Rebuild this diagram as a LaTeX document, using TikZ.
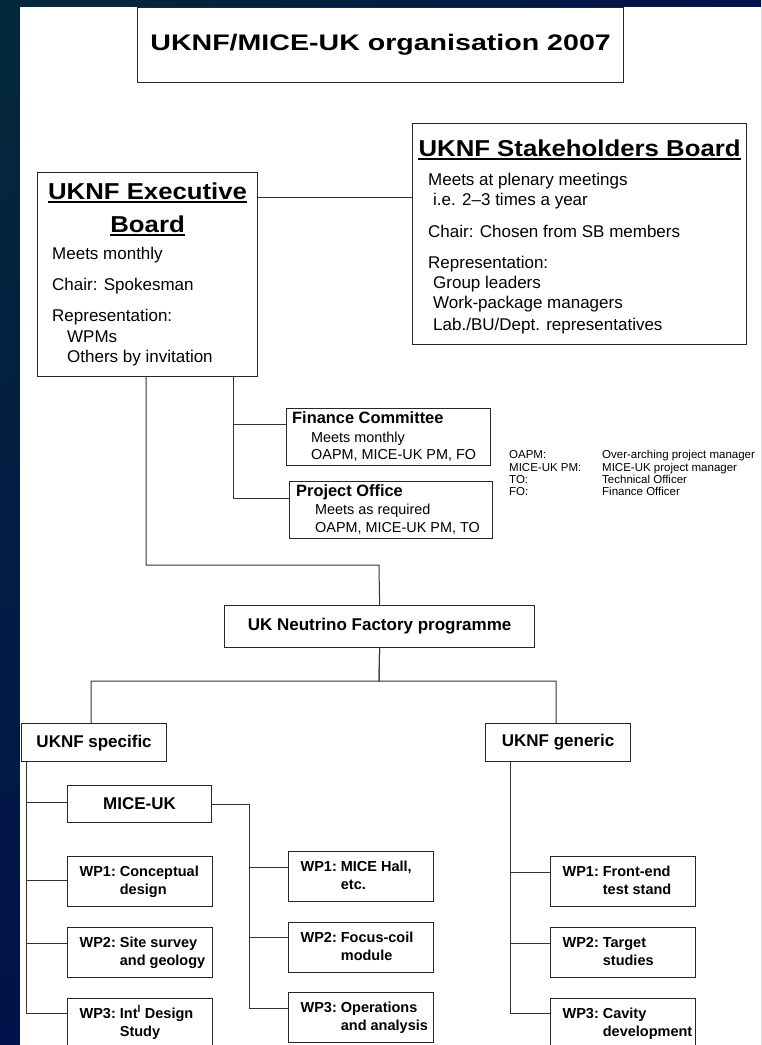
\documentclass[tikz,border=0pt]{standalone}
\usepackage{fontspec}
\setmainfont{Liberation Sans}
\newfontfamily\titlefont[FakeStretch=1.27]{Liberation Sans}
\newfontfamily\headfont[FakeStretch=1.12]{Liberation Sans}
\usetikzlibrary{shadings}
\definecolor{bgteal}{HTML}{03293B}
\definecolor{bgnavy}{HTML}{02124A}
% work-package label: number, first line, second line
\newcommand{\wplabel}[3]{\makebox[121pt][l]{\begin{tabular}{@{}l@{\ }l@{}}#1 & #2\\ & #3\end{tabular}}}

\begin{document}
\begin{tikzpicture}[
    x=1pt, y=-1pt,
    box/.style={draw=black!85, line width=1.2pt, fill=white, inner sep=0pt, anchor=north west},
    wp box/.style={box, inner xsep=12pt, minimum height=50pt, font=\bfseries\fontsize{14.5}{18}\selectfont},
    tag box/.style={box, minimum height=38pt, font=\bfseries\fontsize{17}{20}\selectfont},
    head/.style={inner sep=0pt, anchor=base, font=\headfont\bfseries\fontsize{23}{27}\selectfont},
    body/.style={inner sep=0pt, anchor=base west, font=\fontsize{17}{20}\selectfont},
    small/.style={inner sep=0pt, anchor=base west, font=\fontsize{14.4}{17}\selectfont},
    legend/.style={inner sep=0pt, anchor=base west, font=\fontsize{11.5}{13}\selectfont},
    link/.style={draw=black!80, line width=1pt},
    uline/.style={line width=2.2pt},
  ]
  \useasboundingbox (0,0) rectangle (761,1045);
  \shade[upper left=bgteal, upper right=bgnavy, lower left=bgnavy, lower right=bgnavy] (0,0) rectangle (761,1045);
  \fill[white] (20,7) rectangle (761,1045);

  % title
  \node[box, minimum width=486pt, minimum height=75pt,
        font=\titlefont\bfseries\fontsize{22.5}{26}\selectfont] (title) at (137,7) {UKNF/MICE-UK organisation 2007};

  % boards
  \node[box, minimum width=220pt, minimum height=204pt] (exec) at (37,172) {};
  \node[box, minimum width=334pt, minimum height=221pt] (stake) at (412,123) {};
  \node[head] (exect1) at (exec.north |- 0,199) {UKNF Executive};
  \node[head] (exect2) at (exec.north |- 0,232) {Board};
  \node[head] (staket) at (stake.north |- 0,156) {UKNF Stakeholders Board};
  \foreach \n in {exect1, exect2, staket}
    \draw[uline] ([yshift=-3pt]\n.base west) -- ([yshift=-3pt]\n.base east);

  \foreach \x/\y/\txt [count=\i] in {52/259/Meets monthly, 52/290/Chair: Spokesman,
      52/321/Representation:, 67/342/WPMs, 67/362/Others by invitation}
    \node[body] (exec\i) at (\x,\y) {\txt};
  \foreach \x/\y/\txt [count=\i] in {428/185/Meets at plenary meetings,
      433/205/i.e. 2\textendash3 times a year, 428/237/Chair: Chosen from SB members,
      428/268/Representation:, 433/288/Group leaders, 433/308/Work-package managers,
      433/330/{Lab./BU/Dept. representatives}}
    \node[body] (stake\i) at (\x,\y) {\txt};

  % committees
  \node[box, minimum width=204pt, minimum height=57pt] (fc) at (286,408) {};
  \node[box, minimum width=203pt, minimum height=57pt] (po) at (289,481) {};
  \node[small, font=\bfseries\fontsize{16.4}{19}\selectfont] (fct) at (292,423) {Finance Committee};
  \node[small] (fc1) at (311,442) {Meets monthly};
  \node[small] (fc2) at (311,459) {OAPM, MICE-UK PM, FO};
  \node[small, font=\bfseries\fontsize{16.4}{19}\selectfont] (pot) at (296,496) {Project Office};
  \node[small] (po1) at (315,514) {Meets as required};
  \node[small] (po2) at (315,532) {OAPM, MICE-UK PM, TO};

  % abbreviations
  \foreach \y/\ab/\txt [count=\i] in {458/OAPM:/Over-arching project manager,
      471/MICE-UK PM:/MICE-UK project manager, 483/TO:/Technical Officer, 495/FO:/Finance Officer} {
    \node[legend] (ab\i) at (509,\y) {\ab};
    \node[legend] (abt\i) at (602,\y) {\txt};
  }

  % programme
  \node[tag box, minimum width=310pt, minimum height=42pt] (prog) at (224,605) {UK Neutrino Factory programme};
  \node[tag box, minimum width=145pt] (spec) at (21,723) {UKNF specific};
  \node[tag box, minimum width=145pt] (gen) at (485,723) {UKNF generic};
  \node[tag box, minimum width=144pt, minimum height=37pt] (mice) at (67,785) {MICE-UK};

  \foreach \n/\x/\y/\wa/\wb/\wc in {swp1/67/856/WP1:/Conceptual/design,
      swp2/67/927/WP2:/Site survey/and geology,
      swp3/67/998/WP3:/Int\textsuperscript{l} Design/Study,
      mwp1/288/851/WP1:/{MICE Hall,}/etc.,
      mwp2/288/922/WP2:/Focus-coil/module,
      mwp3/288/992/WP3:/Operations/and analysis,
      gwp1/550/856/WP1:/Front-end/test stand,
      gwp2/550/927/WP2:/Target/studies,
      gwp3/550/998/WP3:/Cavity/development}
    \node[wp box] (\n) at (\x,\y) {\wplabel{\wa}{\wb}{\wc}};

  % connectors
  \draw[link] (exec.east |- 0,197) -- (stake.west |- 0,197);
  \draw[link] (exec.south -| 233,0) |- (fc.west |- 0,424);
  \draw[link] (exec.south -| 233,0) |- (po.west |- 0,498);
  \draw[link] (exec.south -| 146,0) |- (379,565) -- (prog.north);
  \draw[link] (prog.south) -- (379,681) -| (spec.north -| 91,0);
  \draw[link] (prog.south) -- (379,681) -| (gen.north -| 556,0);
  \foreach \n/\y in {mice/802, swp1/880, swp2/943, swp3/1013}
    \draw[link] (spec.south -| 26,0) |- (\n.west |- 0,\y);
  \foreach \n/\y in {mwp1/867, mwp2/937, mwp3/1008}
    \draw[link] (mice.east) -| (249,\y) -- (\n.west |- 0,\y);
  \foreach \n/\y in {gwp1/872, gwp2/943, gwp3/1013}
    \draw[link] (gen.south -| 510,0) |- (\n.west |- 0,\y);
\end{tikzpicture}
\end{document}
